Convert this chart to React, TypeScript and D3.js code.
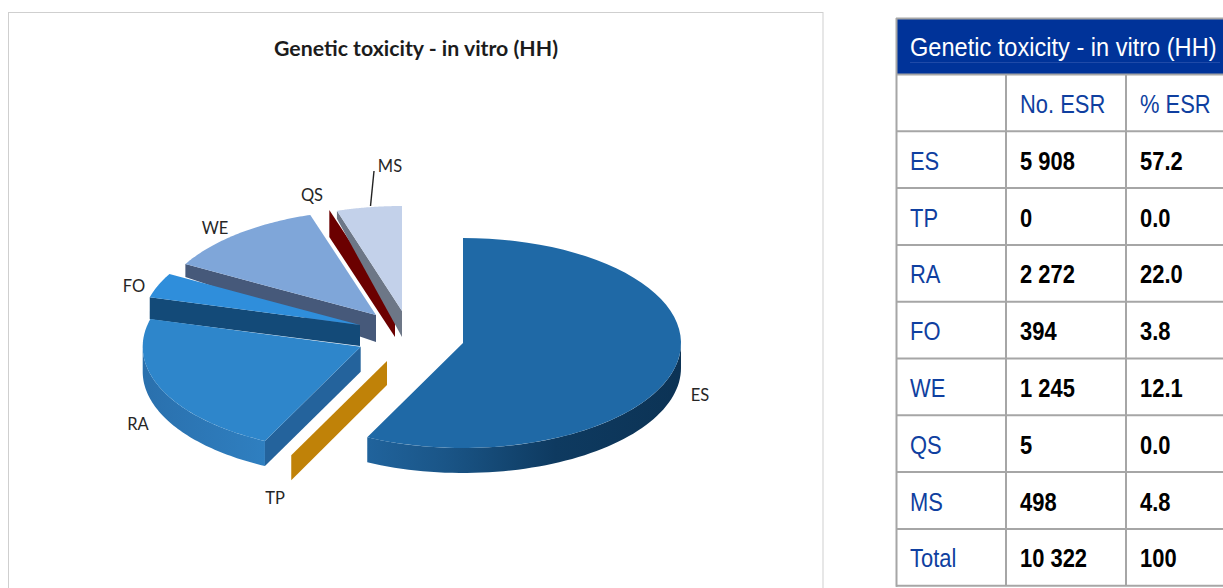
import React from 'react';
import * as d3 from 'd3';

// Table and pie data
const categories = ['ES', 'TP', 'RA', 'FO', 'WE', 'QS', 'MS'];
const noEsr = [5908, 0, 2272, 394, 1245, 5, 498];
const noEsrLabels = ['5 908', '0', '2 272', '394', '1 245', '5', '498'];
const pctEsrLabels = ['57.2', '0.0', '22.0', '3.8', '12.1', '0.0', '4.8'];
const totalLabels = ['Total', '10 322', '100'];
const chartTitle = 'Genetic toxicity - in vitro (HH)';
const columnLabels = ['', 'No. ESR', '% ESR'];

// Where each exploded slice sits, and how it is painted
const sliceStyle: Record<string, any> = {
  ES: { apex: [463, 343], top: '#1f69a6', wallA: '#20639c', wallB: '#0c3355', rimDepth: 25, apexDepth: 25 },
  TP: { apex: [387, 361], top: '#c08208', cut: '#c08208', rimDepth: 25, apexDepth: 24 },
  RA: { apex: [360.7, 346.7], top: '#2e86cb', cut: '#24639c', wallA: '#2a70ad', wallB: '#2f7fc0', rimDepth: 25, apexDepth: 25 },
  FO: { apex: [360, 325], top: '#2f8edb', cut: '#134a78', rimDepth: 22, apexDepth: 21 },
  WE: { apex: [376, 315], top: '#7fa6d9', cut: '#46597a', rimDepth: 13, apexDepth: 27 },
  QS: { apex: [395, 310], top: '#6b0000', cut: '#6b0000', rimDepth: 27, apexDepth: 27 },
  MS: { apex: [402, 311], top: '#c3d1ea', cut: '#6d7787', rimDepth: 8, apexDepth: 26 },
};
const labelSpots: Record<string, [number, number]> = {
  ES: [700, 401], TP: [275, 504], RA: [138, 430], FO: [134, 292], WE: [215, 234], QS: [312, 201], MS: [390, 172],
};

const rx = 218;
const ry = 105;
const narrow = 0.86; // no Arial Narrow here, so Liberation Sans gets squeezed
const headerNarrow = 0.925;

const pie = d3.pie<number>().sort(null).startAngle(0).endAngle(2 * Math.PI);
const arcs = pie(noEsr);

// d3 pie angles: 0 at 12 o'clock, going clockwise, squashed to a tilted ellipse
const rimPoint = (apex: number[], a: number, drop = 0): [number, number] => [
  apex[0] + rx * Math.sin(a),
  apex[1] - ry * Math.cos(a) + drop,
];

const rimPath = (apex: number[], a0: number, a1: number, drop = 0) =>
  d3.range(0, 61).map(i => rimPoint(apex, a0 + ((a1 - a0) * i) / 60, drop));

const line = d3.line();

const Cell = ({ x, y, fill, bold, squeeze = narrow, children }: any) => (
  <text
    transform={`translate(${x},${y}) scale(${squeeze},1)`}
    fontFamily="'Liberation Sans', Arial, sans-serif"
    fontSize={25.5}
    fontWeight={bold ? 700 : 400}
    fill={fill}
  >
    {children}
  </text>
);

const App = () => {
  const rowY = d3.scaleLinear().domain([0, 9]).range([74.5, 585.7]);
  const colX = [896, 1006, 1126, 1240];
  const blue = '#0f3fa0';
  const grid = '#a6a6a6';

  return (
    <svg width={1223} height={588} style={{ position: 'absolute', left: 0, top: 0 }}>
      <defs>
        <linearGradient id="wallES" x1="0" x2="1" y1="0" y2="0">
          <stop offset="0" stopColor={sliceStyle.ES.wallA} />
          <stop offset="0.25" stopColor="#1a5587" />
          <stop offset="0.6" stopColor="#0e3a60" />
          <stop offset="1" stopColor={sliceStyle.ES.wallB} />
        </linearGradient>
        <linearGradient id="wallRA" x1="0" x2="1" y1="0" y2="0">
          <stop offset="0" stopColor={sliceStyle.RA.wallA} />
          <stop offset="1" stopColor={sliceStyle.RA.wallB} />
        </linearGradient>
      </defs>

      <rect x={8.5} y={12.5} width={814.5} height={600} fill="#fff" stroke="#cfcfcf" />

      <text x={416} y={56} textAnchor="middle" fontFamily="Lato" fontWeight={700} fontSize={21.3} fill="#1c1c1c">
        {chartTitle}
      </text>

      {/* far slices first so nearer ones overlap them */}
      {[5, 6, 4, 3, 2, 1, 0].map(i => {
        const name = categories[i];
        const s = sliceStyle[name];
        const d = arcs[i];
        const apex = s.apex;
        const isThin = d.endAngle - d.startAngle < 0.01;
        const p = rimPoint(apex, d.startAngle);
        const cutFace =
          line([
            [apex[0], apex[1]],
            p,
            [p[0], p[1] + s.rimDepth],
            [apex[0], apex[1] + s.apexDepth],
          ]) + 'Z';
        const topFace = line([[apex[0], apex[1]], ...rimPath(apex, d.startAngle, d.endAngle)]) + 'Z';

        return (
          <g key={name}>
            {name === 'ES' && (
              <path
                d={
                  line([
                    ...rimPath(apex, d.endAngle, Math.PI / 2),
                    ...rimPath(apex, Math.PI / 2, d.endAngle, s.rimDepth),
                  ]) + 'Z'
                }
                fill="url(#wallES)"
              />
            )}
            {name === 'RA' && (
              <path
                d={
                  line([
                    ...rimPath(apex, d.startAngle, (3 * Math.PI) / 2),
                    ...rimPath(apex, (3 * Math.PI) / 2, d.startAngle, s.rimDepth),
                  ]) + 'Z'
                }
                fill="url(#wallRA)"
              />
            )}
            {name !== 'ES' && <path d={cutFace} fill={s.cut} />}
            {!isThin && <path d={topFace} fill={s.top} />}
          </g>
        );
      })}

      {categories.map(name => (
        <text key={name} x={labelSpots[name][0]} y={labelSpots[name][1]} textAnchor="middle" fontFamily="Lato" fontSize={16.5} fill="#262626">
          {name}
        </text>
      ))}
      {/* MS leader */}
      <path d={line([[374, 171], [370.5, 206]]) as string} stroke="#222" fill="none" strokeWidth={1.4} />

      {/* table */}
      <rect x={896} y={18} width={340} height={56.5} fill="#003399" />
      <line x1={910} x2={1220} y1={62.5} y2={62.5} stroke="#1f4aa8" />
      <Cell x={910} y={56} fill="#fff" squeeze={headerNarrow}>{chartTitle}</Cell>
      {d3.range(0, 10).map(r => (
        <line key={r} x1={896} x2={1223} y1={rowY(r)} y2={rowY(r)} stroke={grid} strokeWidth={2} />
      ))}
      <line x1={896} x2={1223} y1={18.5} y2={18.5} stroke={grid} strokeWidth={2} />
      <line x1={896.5} x2={896.5} y1={18} y2={586.7} stroke={grid} strokeWidth={2} />
      {colX.slice(1, 3).map(x => (
        <line key={x} x1={x} x2={x} y1={74.5} y2={586} stroke={grid} strokeWidth={2} />
      ))}
      {columnLabels.map((t, c) => (
        <Cell key={c} x={colX[c] + 14} y={rowY(0) + 38.5} fill={blue}>{t}</Cell>
      ))}
      {categories.map((name, r) => (
        <g key={name}>
          <Cell x={colX[0] + 14} y={rowY(r + 1) + 38.5} fill={blue}>{name}</Cell>
          <Cell x={colX[1] + 14} y={rowY(r + 1) + 38.5} fill="#000" bold>{noEsrLabels[r]}</Cell>
          <Cell x={colX[2] + 14} y={rowY(r + 1) + 38.5} fill="#000" bold>{pctEsrLabels[r]}</Cell>
        </g>
      ))}
      <Cell x={colX[0] + 14} y={rowY(8) + 38.5} fill={blue}>{totalLabels[0]}</Cell>
      <Cell x={colX[1] + 14} y={rowY(8) + 38.5} fill="#000" bold>{totalLabels[1]}</Cell>
      <Cell x={colX[2] + 14} y={rowY(8) + 38.5} fill="#000" bold>{totalLabels[2]}</Cell>
    </svg>
  );
};

export default App;
